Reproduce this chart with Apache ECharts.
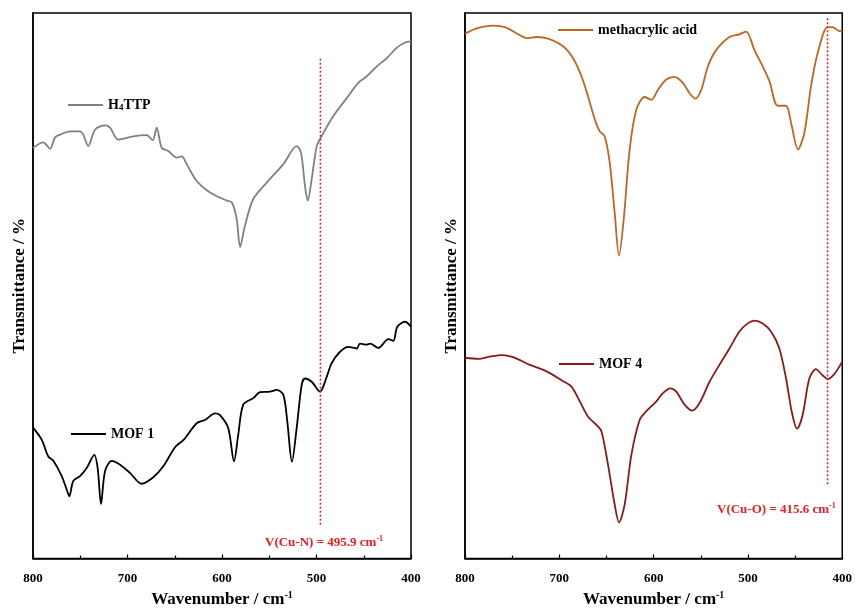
<!DOCTYPE html>
<html>
<head>
<meta charset="utf-8">
<script src="https://cdn.jsdelivr.net/npm/echarts@6/dist/echarts.min.js"></script>
<style>html,body{margin:0;padding:0;background:#fff;}#c{width:855px;height:613px;}</style>
</head>
<body>
<div id="c"></div>
<script>
// ---- Data (wavenumber / cm-1, relative transmittance) ----
const h4ttpWave = [800,789.1,782.0,776.7,771.4,760.8,750.3,746.8,741.5,734.4,723.8,718.5,709.7,693.9,679.7,673.3,669.1,663.8,656.8,647.9,642.6,637.4,626.8,612.7,595.0,589.7,584.4,580.9,575.7,566.9,552.7,535.1,521.0,516.4,512.2,509.3,505.1,499.8,495.6,482.2,468.0,455.8,446.9,436.3,425.7,415.2,406.3,400];
const h4ttpT    = [75.3,76.3,75.1,77.2,77.7,78.3,78.3,77.7,75.6,78.6,79.4,79.0,76.8,77.4,77.6,76.7,79.0,75.3,74.7,73.5,73.7,72.3,69.2,67.1,65.6,65.3,62.2,57.1,61.0,65.9,68.9,72.3,75.6,74.4,68.3,65.6,69.5,75.6,77.1,81.1,84.4,87.2,88.4,90.2,91.7,93.6,94.6,94.8];

const mof1Wave = [800,790.8,783.8,778.5,769.6,764.3,761.6,757.4,750.3,743.2,735.1,731.6,728.0,723.8,716.7,707.9,697.4,685.0,672.7,662.1,649.7,640.4,626.8,618.0,607.4,602.1,593.4,587.3,582.8,577.5,566.9,559.8,549.2,542.1,535.1,530.9,526.0,521.0,515.7,512.2,505.1,496.3,489.2,484.0,475.1,466.3,457.5,454.0,446.9,443.4,434.6,424.0,418.7,414.5,406.3,400];
const mof1T    = [24.0,21.8,18.7,17.9,15.1,12.6,11.4,14.2,15.1,16.6,19.0,16.6,10.0,16.0,17.9,17.2,15.7,13.7,14.9,16.9,20.4,21.8,24.8,25.4,26.6,26.3,23.9,17.8,22.7,28.2,29.4,30.5,30.6,30.9,30.0,25.1,17.7,23.9,31.8,33.0,32.4,30.6,33.3,35.8,37.9,38.8,38.5,39.4,39.2,39.4,38.6,40.2,39.9,42.5,43.4,42.5];

const maaWave = [800,787.6,770.1,757.7,743.6,734.7,724.1,711.9,696.0,685.4,676.5,669.5,662.4,657.1,651.9,646.6,641.3,636.7,631.7,625.4,618.3,609.5,602.4,595.5,586.6,577.8,569.0,561.9,555.9,549.5,542.5,533.7,519.6,509.0,501.9,493.1,484.3,477.2,468.5,459.6,454.3,446.9,440.2,433.1,426.1,415.6,410.3,403.2,400];
const maaT    = [96.2,97.2,97.7,97.4,96.1,95.4,95.6,95.3,93.9,91.7,88.4,84.7,80.5,78.3,77.4,72.6,63.4,55.5,62.2,75.0,82.3,84.6,84.1,85.9,87.8,88.3,87.2,85.3,84.3,85.9,90.2,93.2,95.6,96.1,96.6,93.2,90.2,87.5,83.0,83.0,79.9,75.0,78.0,86.6,92.6,97.4,97.4,96.7,96.8];

const mof4Wave = [800,785.9,773.5,761.2,748.9,731.2,713.5,696.0,687.1,678.3,669.5,660.6,655.3,648.4,641.3,636.7,630.7,623.6,614.8,607.7,597.1,590.2,582.3,576.0,567.2,559.1,551.3,540.7,530.2,519.6,509.0,500.2,493.1,484.3,475.5,466.7,459.6,453.2,447.9,442.0,434.9,427.9,420.9,415.6,408.5,400];
const mof4T    = [36.8,36.6,37.0,37.3,36.9,35.5,34.3,32.5,31.5,28.8,26.0,24.5,23.3,17.2,9.9,6.6,9.9,19.0,25.4,27.0,28.8,30.3,31.2,30.6,28.2,27.1,28.5,32.4,35.5,38.5,41.6,43.1,43.6,43.1,41.6,38.5,33.0,26.6,23.8,26.3,33.0,34.7,33.6,32.9,33.8,36.1];

const cuNWave = 495.9, cuNSpan = [6.2, 91.8];
const cuOWave = 415.6, cuOSpan = [13.6, 99.1];
const xTicks = [800, 700, 600, 500, 400];

const pair = (xs, ys) => xs.map((x, i) => [x, ys[i]]);
const vline = (x, span) => span.map(y => [x, y]);

const FONT = "'Liberation Serif','Times New Roman',serif";

function xAxis(gi) {
  return {
    gridIndex: gi, type: 'value', min: 400, max: 800, interval: 100, inverse: true,
    axisLine: { show: true, lineStyle: { color: '#000', width: 1.5 } },
    axisTick: { show: true, inside: true, length: 4, lineStyle: { color: '#000', width: 1.2 } },
    minorTick: { show: true, splitNumber: 2, length: 3, lineStyle: { color: '#000', width: 1.2 } },
    splitLine: { show: false },
    axisLabel: { color: '#000', fontFamily: FONT, fontWeight: 'bold', fontSize: 13, margin: 14,
      formatter: v => xTicks.includes(v) ? String(v) : '' },
    name: '{a|Wavenumber / cm}{s|-1}', nameLocation: 'middle', nameGap: 32,
    nameTextStyle: { rich: {
      a: { fontFamily: FONT, fontWeight: 'bold', fontSize: 17, color: '#000' },
      s: { fontFamily: FONT, fontWeight: 'bold', fontSize: 10, color: '#000', verticalAlign: 'top', padding: [0,0,8,0] }
    } }
  };
}
function yAxis(gi) {
  return {
    gridIndex: gi, type: 'value', min: 0, max: 100,
    axisLine: { show: true, lineStyle: { color: '#000', width: 1.5 } },
    axisTick: { show: false }, axisLabel: { show: false }, splitLine: { show: false },
    name: 'Transmittance / %', nameLocation: 'middle', nameGap: 5,
    nameTextStyle: { fontFamily: FONT, fontWeight: 'bold', fontSize: 17, color: '#000' }
  };
}
function line(name, data, color, gi) {
  return { name, type: 'line', xAxisIndex: gi, yAxisIndex: gi, data, smooth: 0.3, showSymbol: false,
    symbol: 'none', lineStyle: { color, width: 1.8 }, itemStyle: { color }, silent: true, animation: false };
}
function dotted(data, gi) {
  return { type: 'line', xAxisIndex: gi, yAxisIndex: gi, data, showSymbol: false, symbol: 'none',
    lineStyle: { color: '#ee1c1c', width: 1.5, type: [2, 2] }, silent: true, animation: false };
}
const legTxt = { fontFamily: FONT, fontWeight: 'bold', fontSize: 14, color: '#000' };
function legend(name, left, top, extra) {
  return Object.assign({ data: [name], left, top, padding: 0, icon: 'rect', itemWidth: 35, itemHeight: 2,
    selectedMode: false, textStyle: legTxt }, extra || {});
}

const chart = echarts.init(document.getElementById('c'));
chart.setOption({
  backgroundColor: '#fff',
  animation: false,
  grid: [
    { left: 33, top: 13, width: 378, height: 548, show: true, borderColor: '#000', borderWidth: 1.5, backgroundColor: 'transparent' },
    { left: 465, top: 13, width: 378, height: 548, show: true, borderColor: '#000', borderWidth: 1.5, backgroundColor: 'transparent' }
  ],
  xAxis: [xAxis(0), xAxis(1)],
  yAxis: [yAxis(0), yAxis(1)],
  legend: [
    legend('H4TTP', 68, 98, { formatter: () => '{a|H}{s|4}{a|TTP}',
      textStyle: Object.assign({}, legTxt, { rich: {
        a: legTxt,
        s: { fontFamily: FONT, fontWeight: 'bold', fontSize: 9, color: '#000', verticalAlign: 'bottom', padding: [6,0,0,0] } } }) }),
    legend('MOF 1', 71, 427),
    legend('methacrylic acid', 558, 23),
    legend('MOF 4', 559, 357)
  ],
  series: [
    line('H4TTP', pair(h4ttpWave, h4ttpT), '#808080', 0),
    line('MOF 1', pair(mof1Wave, mof1T), '#000000', 0),
    dotted(vline(cuNWave, cuNSpan), 0),
    line('methacrylic acid', pair(maaWave, maaT), '#c0661f', 1),
    line('MOF 4', pair(mof4Wave, mof4T), '#8b1a1a', 1),
    dotted(vline(cuOWave, cuOSpan), 1)
  ],
  graphic: [
    { type: 'text', left: 265, top: 535, style: { text: '{a|V(Cu-N) = ' + cuNWave + ' cm}{s|-1}',
      rich: { a: { fontFamily: FONT, fontWeight: 'bold', fontSize: 13, fill: '#ee1c1c' },
              s: { fontFamily: FONT, fontWeight: 'bold', fontSize: 8, fill: '#ee1c1c', verticalAlign: 'top', padding: [0,0,7,0] } } } },
    { type: 'text', left: 717, top: 502, style: { text: '{a|V(Cu-O) = ' + cuOWave + ' cm}{s|-1}',
      rich: { a: { fontFamily: FONT, fontWeight: 'bold', fontSize: 13, fill: '#ee1c1c' },
              s: { fontFamily: FONT, fontWeight: 'bold', fontSize: 8, fill: '#ee1c1c', verticalAlign: 'top', padding: [0,0,7,0] } } } }
  ]
});
</script>
</body>
</html>
